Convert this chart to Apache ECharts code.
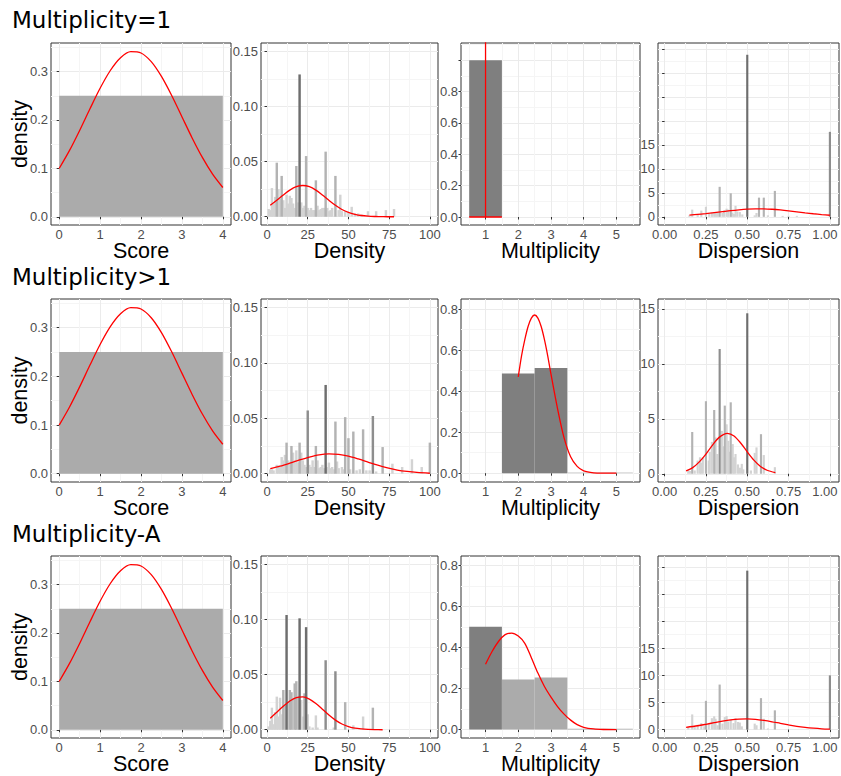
<!DOCTYPE html>
<html>
<head>
<meta charset="utf-8">
<title>Multiplicity</title>
<script src="https://cdn.jsdelivr.net/npm/echarts@6.0.0/dist/echarts.min.js"></script>
<style>
  html, body { margin: 0; padding: 0; background: #fff; }
  #chart { width: 841px; height: 776px; }
</style>
</head>
<body>
<div id="chart"></div>
<script>
// ---------- data ----------
const rowTitles = ['Multiplicity=1', 'Multiplicity>1', 'Multiplicity-A'];
const xNames = ['Score', 'Density', 'Multiplicity', 'Dispersion'];
const yName = 'density';

// tick labels
const scoreXTicks = [0, 1, 2, 3, 4];
const scoreYTicks = [0, 0.1, 0.2, 0.3];
const densXTicks = [0, 25, 50, 75, 100];
const densYTicks = [0, 0.05, 0.10, 0.15];
const multXTicks = [1, 2, 3, 4, 5];
const multYTicks = [0, 0.2, 0.4, 0.6, 0.8];
const dispXTicks = [0, 0.25, 0.5, 0.75, 1];
const dispYTicks = [0, 5, 10, 15];

// Score (same in every row): one bin 0-4 (centre, height) + red density curve
const scoreBars = [[2, 0.25]];
const scoreCurveX = [0, 0.25, 0.5, 0.75, 1, 1.25, 1.5, 1.75, 2, 2.25, 2.5, 2.75, 3, 3.25, 3.5, 3.75, 4];
const scoreCurveY = [0.0998, 0.1366, 0.1784, 0.2227, 0.2655, 0.3022, 0.3286, 0.3412, 0.3384, 0.3205, 0.2899, 0.2505, 0.2067, 0.1629, 0.1226, 0.0881, 0.0605];

// Density, row 1  [x, height]
const dens1Dark = [[20, 0.129]];
const dens1Mid = [[6, 0.049], [9, 0.037], [18, 0.046], [24, 0.055], [30, 0.033], [36, 0.059], [42, 0.037]];
const dens1Light = [[1, 0.007], [2, 0.006], [3, 0.026], [4, 0.012], [5, 0.018], [7, 0.025], [8, 0.016], [10, 0.015], [11, 0.008], [12, 0.020], [13, 0.012], [14, 0.019], [15, 0.017], [16, 0.012], [17, 0.008], [19, 0.013], [21, 0.013], [22, 0.008], [23, 0.010], [25, 0.008], [26, 0.006], [27, 0.008], [28, 0.006], [29, 0.006], [31, 0.010], [32, 0.006], [33, 0.007], [34, 0.008], [35, 0.008], [37, 0.008], [38, 0.005], [39, 0.006], [40, 0.008], [44, 0.006], [45, 0.020], [46, 0.005], [48, 0.005], [50, 0.004], [52, 0.009], [54, 0.003], [56, 0.003], [58, 0.002], [62, 0.005], [67, 0.005], [73, 0.006], [78, 0.007]];
const dens1CurveX = [2, 6, 10, 14, 18, 22, 26, 30, 34, 38, 42, 46, 50, 54, 58, 62, 66, 70, 74, 78];
const dens1CurveY = [0.0104, 0.0149, 0.0197, 0.0241, 0.0272, 0.0283, 0.0272, 0.0241, 0.0197, 0.0149, 0.0104, 0.0066, 0.0039, 0.0022, 0.0011, 0.0005, 0.0002, 0.0001, 0, 0];

// Density, row 2
const dens2Dark = [[36, 0.080]];
const dens2MidDark = [[25, 0.057], [65, 0.052]];
const dens2Mid = [[12, 0.028], [15, 0.025], [20, 0.028], [30, 0.025], [42, 0.047], [48, 0.051], [50, 0.032], [53, 0.038], [59, 0.040], [71, 0.024], [100, 0.028]];
const dens2Light = [[2, 0.004], [3, 0.004], [4, 0.003], [6, 0.008], [7, 0.0075], [8, 0.006], [9, 0.015], [10, 0.012], [11, 0.017], [13, 0.012], [14, 0.010], [16, 0.019], [17, 0.012], [18, 0.021], [19, 0.010], [21, 0.019], [22, 0.012], [23, 0.008], [24, 0.006], [26, 0.008], [27, 0.006], [28, 0.012], [29, 0.006], [31, 0.012], [32, 0.005], [33, 0.006], [34, 0.008], [35, 0.005], [37, 0.006], [38, 0.010], [39, 0.005], [40, 0.006], [41, 0.004], [43, 0.011], [44, 0.005], [46, 0.006], [47, 0.004], [51, 0.004], [55, 0.003], [57, 0.004], [61, 0.003], [63, 0.003], [67, 0.002], [77, 0.009], [83, 0.006], [89, 0.013], [95, 0.006]];
const dens2CurveX = [2, 8, 14, 20, 26, 32, 38, 44, 50, 56, 62, 68, 74, 80, 86, 92, 100];
const dens2CurveY = [0.0046, 0.0068, 0.0095, 0.0124, 0.0150, 0.0170, 0.0178, 0.0174, 0.0158, 0.0133, 0.0105, 0.0077, 0.0053, 0.0033, 0.0020, 0.0011, 0.0004];

// Density, row 3
const dens3Dark = [[12, 0.104], [20, 0.101], [24, 0.093]];
const dens3MidDark = [[36, 0.063], [42, 0.053]];
const dens3Mid = [[10, 0.036], [14, 0.036], [15, 0.034], [17, 0.042], [18, 0.044], [23, 0.033], [48, 0.025], [65, 0.020]];
const dens3Light = [[1, 0.003], [2, 0.008], [3, 0.020], [4, 0.005], [5, 0.016], [6, 0.030], [7, 0.012], [8, 0.029], [9, 0.014], [11, 0.022], [13, 0.025], [16, 0.028], [19, 0.030], [21, 0.027], [22, 0.012], [25, 0.014], [26, 0.003], [28, 0.002], [30, 0.013], [31, 0.002], [41, 0.002], [53, 0.004], [59, 0.012]];
const dens3CurveX = [2, 6, 10, 14, 18, 22, 26, 30, 34, 38, 42, 46, 50, 54, 58, 62, 66, 71];
const dens3CurveY = [0.0105, 0.0159, 0.0213, 0.0260, 0.0291, 0.0297, 0.0278, 0.0238, 0.0186, 0.0133, 0.0087, 0.0052, 0.0029, 0.0014, 0.0007, 0.0003, 0.0001, 0];

// Multiplicity  [x, height]
const mult1Dark = [[1, 1.0]];
const mult1CurveX = [0.5, 1, 1, 1, 1.5];
const mult1CurveY = [0, 0, 60, 0, 0];
const mult2Dark = [[2, 0.487], [3, 0.513]];
const mult2Light = [[4, 0.004], [5, 0.004]];
const mult2CurveX = [2, 2.1, 2.2, 2.3, 2.4, 2.5, 2.6, 2.7, 2.8, 2.9, 3, 3.2, 3.4, 3.6, 3.8, 4, 4.3, 4.6, 5];
const mult2CurveY = [0.47, 0.573, 0.652, 0.716, 0.757, 0.772, 0.757, 0.716, 0.652, 0.573, 0.483, 0.315, 0.172, 0.080, 0.033, 0.0115, 0.002, 0.0002, 0];
const mult3Dark = [[1, 0.501]];
const mult3Light = [[2, 0.244], [3, 0.254], [4, 0.004], [5, 0.004]];
const mult3CurveX = [1, 1.2, 1.4, 1.6, 1.8, 2, 2.2, 2.4, 2.6, 2.8, 3, 3.2, 3.4, 3.6, 3.8, 4, 4.3, 4.6, 5];
const mult3CurveY = [0.318, 0.38, 0.43, 0.462, 0.470, 0.455, 0.42, 0.35, 0.275, 0.21, 0.158, 0.112, 0.075, 0.046, 0.024, 0.011, 0.003, 0.0005, 0];

// Dispersion, row 1
const disp1Dark = [[0.5, 33.75]];
const disp1MidDark = [[1.0, 17.7]];
const disp1Mid = [[0.333, 6.25], [0.4, 4.9], [0.571, 4.0], [0.6, 4.0], [0.667, 5.4]];
const disp1Light = [[0.15, 0.3], [0.167, 1.5], [0.2, 0.4], [0.222, 1.3], [0.25, 2.1], [0.27, 0.6], [0.286, 0.9], [0.3, 1.0], [0.31, 0.9], [0.32, 1.0], [0.35, 0.8], [0.36, 1.4], [0.375, 1.7], [0.385, 1.5], [0.41, 0.9], [0.42, 0.6], [0.429, 2.3], [0.44, 1.1], [0.455, 1.0], [0.47, 0.5], [0.545, 0.3], [0.556, 0.8], [0.625, 0.3], [0.714, 0.2], [0.75, 0.2], [0.8, 0.2]];
const disp1CurveX = [0.15, 0.2, 0.25, 0.3, 0.35, 0.4, 0.45, 0.5, 0.55, 0.6, 0.65, 0.7, 0.75, 0.8, 0.85, 0.9, 0.95, 1];
const disp1CurveY = [0.36, 0.50, 0.68, 0.88, 1.09, 1.30, 1.47, 1.60, 1.67, 1.66, 1.58, 1.44, 1.26, 1.05, 0.84, 0.64, 0.47, 0.33];

// Dispersion, row 2
const disp2Dark = [[0.5, 14.6]];
const disp2MidDark = [[0.333, 11.35]];
const disp2Mid = [[0.25, 6.6], [0.3, 5.8], [0.364, 6.2], [0.4, 6.5], [0.167, 3.8], [0.583, 3.6]];
const disp2Light = [[0.143, 0.3], [0.154, 0.25], [0.182, 0.3], [0.2, 1.2], [0.214, 1.5], [0.222, 1.0], [0.231, 1.5], [0.267, 1.2], [0.273, 2.0], [0.286, 2.9], [0.308, 3.3], [0.318, 1.8], [0.346, 3.9], [0.357, 2.5], [0.375, 4.5], [0.385, 3.0], [0.39, 2.0], [0.412, 2.7], [0.42, 1.5], [0.429, 1.8], [0.444, 0.85], [0.455, 0.55], [0.467, 0.9], [0.476, 0.4], [0.522, 0.3], [0.545, 1.9], [0.556, 2.4], [0.6, 1.7], [0.667, 0.6]];
const disp2CurveX = [0.13, 0.17, 0.21, 0.25, 0.29, 0.33, 0.38, 0.42, 0.46, 0.5, 0.54, 0.58, 0.62, 0.67];
const disp2CurveY = [0.26, 0.56, 1.08, 1.79, 2.61, 3.31, 3.68, 3.44, 2.80, 1.99, 1.24, 0.67, 0.32, 0.10];

// Dispersion, row 3
const disp3Dark = [[0.5, 29.3]];
const disp3MidDark = [[1.0, 10.0]];
const disp3Mid = [[0.333, 8.3], [0.583, 5.8], [0.25, 5.3], [0.667, 3.55]];
const disp3Light = [[0.143, 0.5], [0.167, 2.8], [0.182, 0.6], [0.2, 0.9], [0.222, 1.2], [0.24, 0.6], [0.267, 1.0], [0.286, 2.1], [0.3, 2.45], [0.308, 2.0], [0.32, 0.8], [0.35, 1.1], [0.364, 2.3], [0.375, 2.5], [0.385, 1.5], [0.4, 1.8], [0.417, 1.2], [0.429, 2.1], [0.444, 1.4], [0.455, 1.3], [0.467, 0.6], [0.545, 1.1], [0.556, 0.8], [0.6, 2.0], [0.625, 0.2]];
const disp3CurveX = [0.13, 0.2, 0.25, 0.3, 0.35, 0.4, 0.45, 0.5, 0.55, 0.6, 0.65, 0.7, 0.75, 0.8, 0.85, 0.9, 0.95, 1];
const disp3CurveY = [0.41, 0.71, 0.98, 1.27, 1.55, 1.78, 1.92, 1.96, 1.88, 1.69, 1.44, 1.15, 0.87, 0.61, 0.41, 0.26, 0.15, 0.085];

// ---------- layout / style ----------
const colLeft = [51, 261, 461, 658];
const colWidth = [180, 177, 179, 181];
const rowTop = [43, 299, 556];
const rowHeight = [182, 183, 182];
const titleTop = [8, 265, 522];

const xLim = [[-0.2, 4.2], [-3.7, 105], [0.25, 5.72], [-0.04, 1.055]];
const yLim = [
  [[-0.017, 0.359], [-0.0075, 0.1575], [-0.051, 1.11], [-1.7, 36.2]],
  [[-0.017, 0.359], [-0.0075, 0.1575], [-0.043, 0.85], [-0.75, 15.9]],
  [[-0.017, 0.359], [-0.0075, 0.1575], [-0.041, 0.845], [-1.55, 32]]
];

const C = {
  red: '#FF0000', score: '#ABABAB', multDark: '#7F7F7F', multLight: '#ABABAB', multFaint: '#D6D6D6',
  dark: '#6E6E6E', midDark: '#8E8E8E', mid: '#B3B3B3', light: '#D3D3D3'
};
const DH = 0.75;   // half bar width, Density
const SH = 0.0065; // half bar width, Dispersion
const AXIS_FONT = 'Liberation Sans';

function steps(a, b, s) { const out = []; for (let v = a; v <= b + 1e-9; v += s) out.push(+v.toFixed(4)); return out; }

const xTicks = [scoreXTicks, densXTicks, multXTicks, dispXTicks];
const yTicks = [scoreYTicks, densYTicks, multYTicks, dispYTicks];
const xMinor = [steps(0.5, 3.5, 1), steps(12.5, 87.5, 25), steps(0.5, 5.5, 1), steps(0.125, 0.875, 0.25)];
const yMajor = [
  [scoreYTicks, densYTicks, steps(0, 1, 0.2), steps(0, 35, 5)],
  [scoreYTicks, densYTicks, multYTicks, dispYTicks],
  [scoreYTicks, densYTicks, multYTicks, steps(0, 30, 5)]
];
const yMinor = [
  [steps(0.05, 0.35, 0.1), steps(0.025, 0.125, 0.05), steps(0.1, 1.1, 0.2), steps(2.5, 32.5, 5)],
  [steps(0.05, 0.35, 0.1), steps(0.025, 0.125, 0.05), steps(0.1, 0.7, 0.2), steps(2.5, 12.5, 5)],
  [steps(0.05, 0.35, 0.1), steps(0.025, 0.125, 0.05), steps(0.1, 0.7, 0.2), steps(2.5, 27.5, 5)]
];
// last Dispersion label sits at the right edge of the page: nudge it left a little
const xFmt = [v => String(v), v => String(v), v => String(v), v => (v === 1 ? '{edge|1.00}' : v.toFixed(2))];
const yFmt = [v => v.toFixed(1), v => v.toFixed(2), v => v.toFixed(1), v => String(v)];

const panels = [
  [
    { bars: [[scoreBars, C.score, 2]], cx: scoreCurveX, cy: scoreCurveY, smooth: 0.3 },
    { bars: [[dens1Light, C.light, DH], [dens1Mid, C.mid, DH], [dens1Dark, C.dark, DH]], cx: dens1CurveX, cy: dens1CurveY, smooth: 0.3 },
    { bars: [[mult1Dark, C.multDark, 0.5]], cx: mult1CurveX, cy: mult1CurveY, smooth: false },
    { bars: [[disp1Light, C.light, SH], [disp1Mid, C.mid, SH], [disp1MidDark, C.midDark, SH], [disp1Dark, C.dark, SH]], cx: disp1CurveX, cy: disp1CurveY, smooth: 0.3 }
  ],
  [
    { bars: [[scoreBars, C.score, 2]], cx: scoreCurveX, cy: scoreCurveY, smooth: 0.3 },
    { bars: [[dens2Light, C.light, DH], [dens2Mid, C.mid, DH], [dens2MidDark, C.midDark, DH], [dens2Dark, C.dark, DH]], cx: dens2CurveX, cy: dens2CurveY, smooth: 0.3 },
    { bars: [[mult2Light, C.multFaint, 0.5], [mult2Dark, C.multDark, 0.5]], cx: mult2CurveX, cy: mult2CurveY, smooth: 0.3 },
    { bars: [[disp2Light, C.light, SH], [disp2Mid, C.mid, SH], [disp2MidDark, C.midDark, SH], [disp2Dark, C.dark, SH]], cx: disp2CurveX, cy: disp2CurveY, smooth: 0.3 }
  ],
  [
    { bars: [[scoreBars, C.score, 2]], cx: scoreCurveX, cy: scoreCurveY, smooth: 0.3 },
    { bars: [[dens3Light, C.light, DH], [dens3Mid, C.mid, DH], [dens3MidDark, C.midDark, DH], [dens3Dark, C.dark, DH]], cx: dens3CurveX, cy: dens3CurveY, smooth: 0.3 },
    { bars: [[mult3Light, C.multLight, 0.5], [mult3Dark, C.multDark, 0.5]], cx: mult3CurveX, cy: mult3CurveY, smooth: 0.3 },
    { bars: [[disp3Light, C.light, SH], [disp3Mid, C.mid, SH], [disp3MidDark, C.midDark, SH], [disp3Dark, C.dark, SH]], cx: disp3CurveX, cy: disp3CurveY, smooth: 0.3 }
  ]
];

// ---------- build ----------
function mainAxis(dim, gi, lim, tickVals, labelVals, fmt, name) {
  const isX = dim === 'x';
  return {
    type: 'value', gridIndex: gi, min: lim[0], max: lim[1],
    position: isX ? 'bottom' : 'left',
    axisLine: { show: false },
    axisTick: { show: true, length: 2.5, customValues: tickVals, lineStyle: { color: '#333333', width: 1 } },
    axisLabel: {
      customValues: labelVals, formatter: fmt, color: '#4D4D4D', fontSize: 13, fontFamily: AXIS_FONT,
      margin: isX ? 2.5 : 3,
      rich: { edge: { color: '#4D4D4D', fontSize: 13, fontFamily: AXIS_FONT, padding: [0, 10, 0, 0] } }
    },
    splitLine: { show: true, lineStyle: { color: '#EBEBEB', width: 1 } },
    name: name, nameLocation: 'middle', nameGap: isX ? 15 : 20, nameMoveOverlap: false,
    nameTextStyle: { color: '#000000', fontSize: 21.5, fontFamily: AXIS_FONT }
  };
}

function minorAxis(dim, gi, lim, vals) {
  return {
    type: 'value', gridIndex: gi, min: lim[0], max: lim[1],
    axisLine: { show: false },
    axisTick: { show: false, customValues: vals },
    axisLabel: { show: false, customValues: vals },
    splitLine: { show: true, lineStyle: { color: '#F5F5F5', width: 1 } }
  };
}

function rectItem(half, color) {
  return function (params, api) {
    const x = api.value(0), h = api.value(1);
    const a = api.coord([x - half, h]);
    const b = api.coord([x + half, 0]);
    return {
      type: 'rect',
      shape: { x: a[0], y: a[1], width: b[0] - a[0], height: b[1] - a[1] },
      style: { fill: color }
    };
  };
}

const grids = [], xAxes = [], yAxes = [], series = [];
for (let r = 0; r < 3; r++) {
  for (let c = 0; c < 4; c++) {
    const gi = r * 4 + c;
    grids.push({
      left: colLeft[c], top: rowTop[r], width: colWidth[c], height: rowHeight[r],
      show: true, borderColor: '#333333', borderWidth: 1, backgroundColor: '#FFFFFF',
      containLabel: false, outerBoundsMode: 'none'
    });
    xAxes.push(mainAxis('x', gi, xLim[c], xTicks[c], xTicks[c], xFmt[c], xNames[c]));
    xAxes.push(minorAxis('x', gi, xLim[c], xMinor[c]));
    yAxes.push(mainAxis('y', gi, yLim[r][c], yMajor[r][c], yTicks[c], yFmt[c], c === 0 ? yName : ''));
    yAxes.push(minorAxis('y', gi, yLim[r][c], yMinor[r][c]));

    const p = panels[r][c];
    p.bars.forEach(([data, color, half]) => {
      series.push({
        type: 'custom', xAxisIndex: 2 * gi, yAxisIndex: 2 * gi,
        data: data, renderItem: rectItem(half, color), clip: true, silent: true, z: 2
      });
    });
    series.push({
      type: 'line', xAxisIndex: 2 * gi, yAxisIndex: 2 * gi,
      data: p.cx.map((x, i) => [x, p.cy[i]]),
      showSymbol: false, symbol: 'none', smooth: p.smooth, clip: true, silent: true, z: 3,
      lineStyle: { color: C.red, width: 1.3 }
    });
  }
}

const chart = echarts.init(document.getElementById('chart'), null, { renderer: 'svg' });
chart.setOption({
  animation: false,
  backgroundColor: '#FFFFFF',
  grid: grids,
  xAxis: xAxes,
  yAxis: yAxes,
  series: series,
  graphic: rowTitles.map((t, i) => ({
    type: 'text', left: 12, top: titleTop[i], silent: true,
    style: { text: t, fill: '#000000', fontSize: 23, fontFamily: 'DejaVu Sans' }
  }))
});
</script>
</body>
</html>
